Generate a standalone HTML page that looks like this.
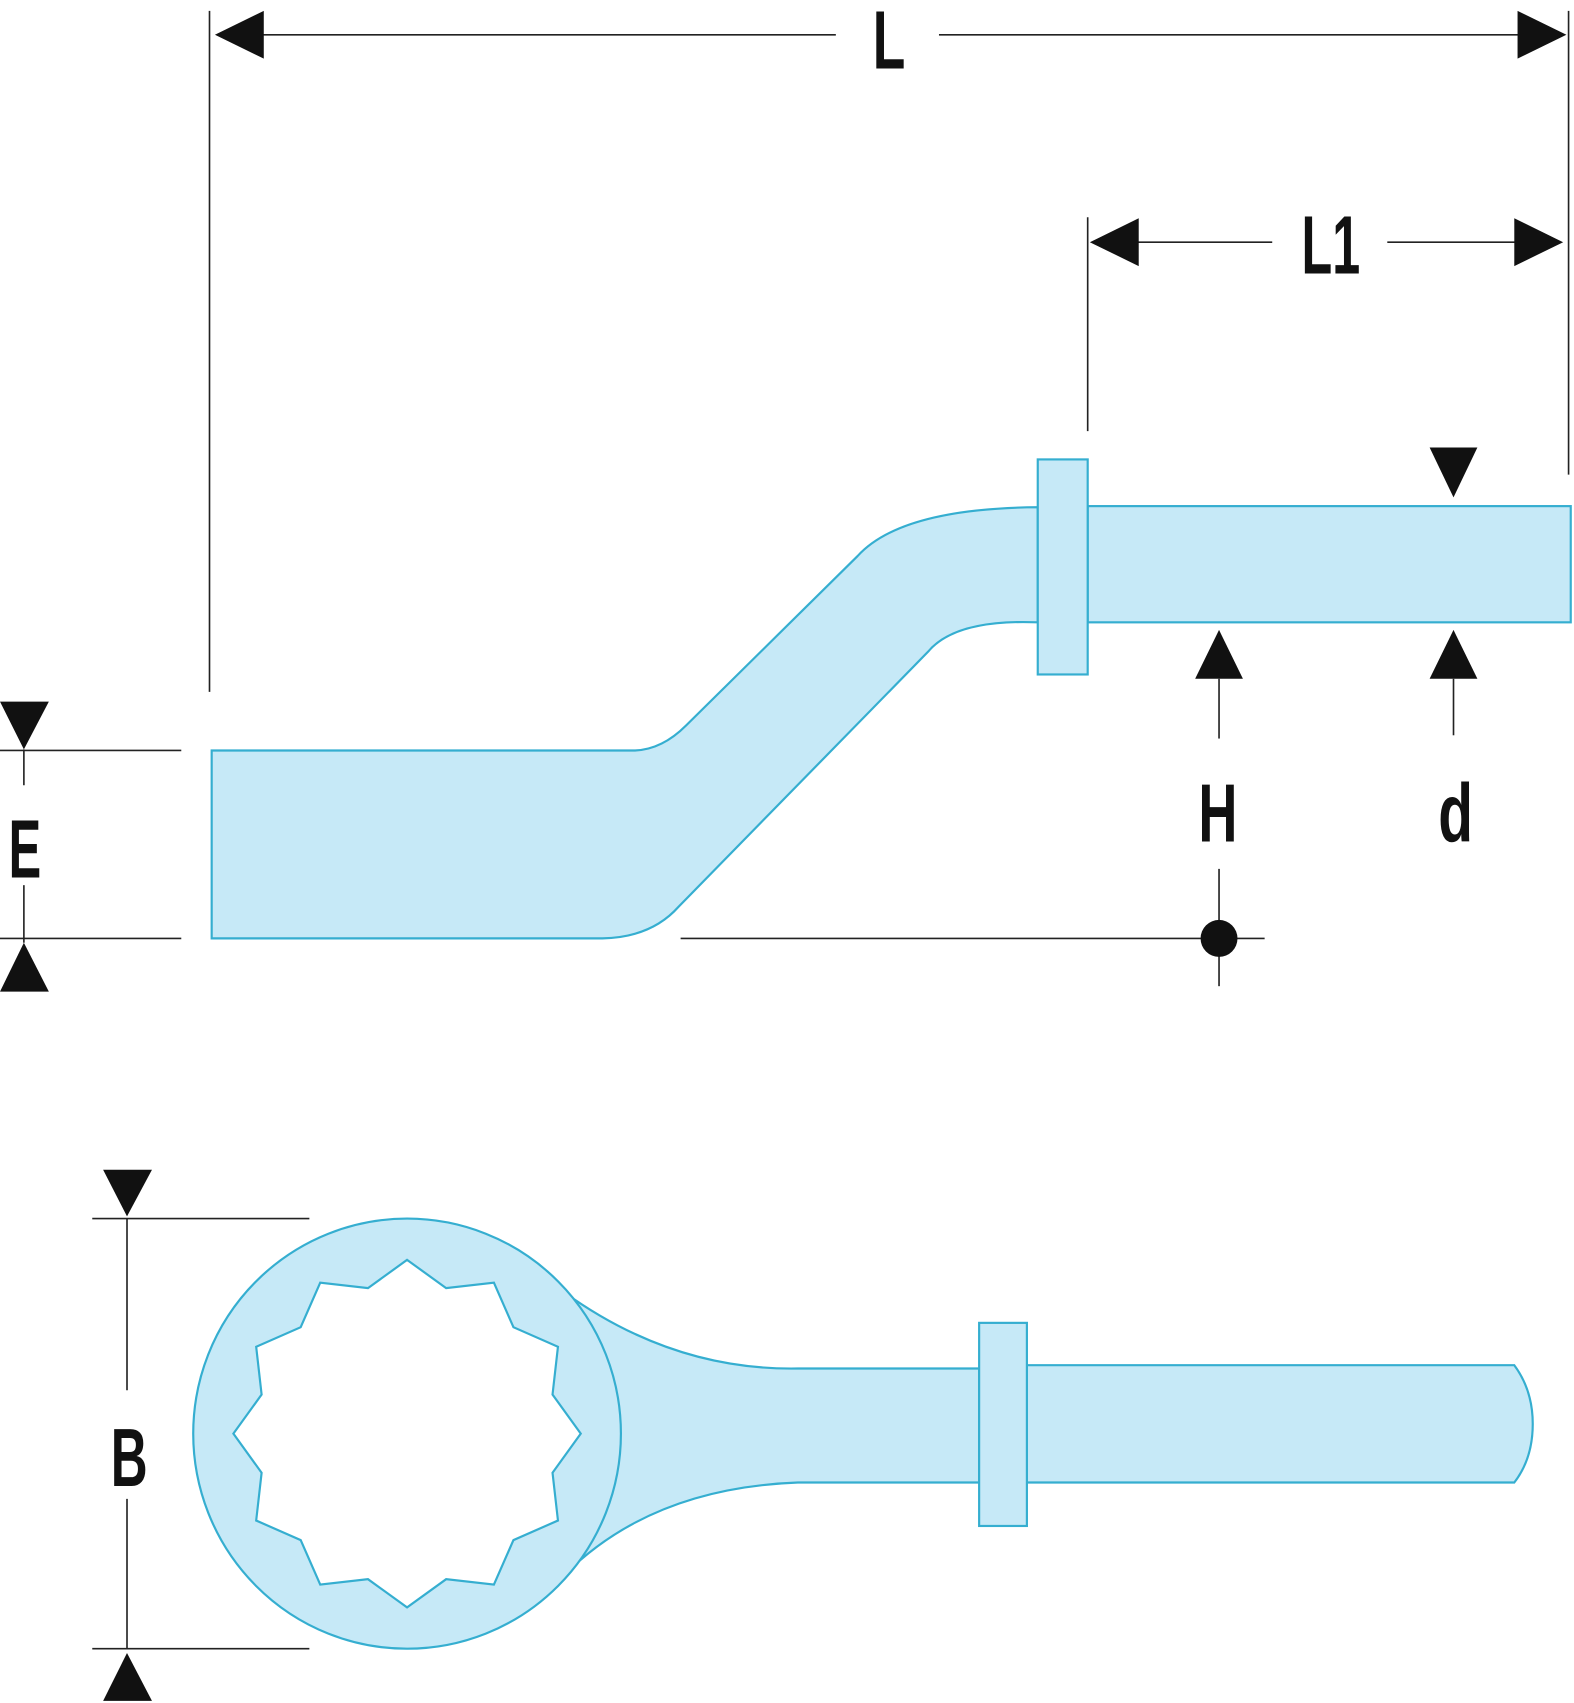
<!DOCTYPE html>
<html><head><meta charset="utf-8"><style>html,body{margin:0;padding:0;background:#fff}svg{display:block}</style></head>
<body>
<svg width="1574" height="1703" viewBox="0 0 1450 1568" preserveAspectRatio="none" xmlns="http://www.w3.org/2000/svg">
<g stroke="#222" stroke-width="1.5" fill="none">
<line x1="193" y1="10" x2="193" y2="637"/>
<line x1="1445" y1="10" x2="1445" y2="437"/>
<line x1="200" y1="32" x2="770" y2="32"/>
<line x1="865" y1="32" x2="1440" y2="32"/>
<line x1="1002" y1="200" x2="1002" y2="397"/>
<line x1="1048" y1="223" x2="1172" y2="223"/>
<line x1="1278" y1="223" x2="1398" y2="223"/>
<line x1="1339" y1="625" x2="1339" y2="677"/>
<line x1="1123" y1="625" x2="1123" y2="680"/>
<line x1="1123" y1="800" x2="1123" y2="908"/>
<line x1="627" y1="864" x2="1165" y2="864"/>
<line x1="0" y1="691" x2="167" y2="691"/>
<line x1="0" y1="864" x2="167" y2="864"/>
<line x1="22" y1="690" x2="22" y2="723"/>
<line x1="22" y1="815" x2="22" y2="868"/>
<line x1="85" y1="1122" x2="285" y2="1122"/>
<line x1="85" y1="1518" x2="285" y2="1518"/>
<line x1="117" y1="1122" x2="117" y2="1280"/>
<line x1="117" y1="1380" x2="117" y2="1518"/>
</g>
<g fill="#111">
<polygon points="198,32 243,10 243,54"/>
<polygon points="1443,32 1398,10 1398,54"/>
<polygon points="1004,223 1049,201 1049,245"/>
<polygon points="1440,223 1395,201 1395,245"/>
<polygon points="1317,412 1361,412 1339,458"/>
<polygon points="1317,625 1361,625 1339,580"/>
<polygon points="1101,625 1145,625 1123,580"/>
<circle cx="1123" cy="864" r="17"/>
<polygon points="0,646 45,646 22,690"/>
<polygon points="0,913 45,913 22,868"/>
<polygon points="95,1077 140,1077 117,1120"/>
<polygon points="95,1566 140,1566 117,1522"/>
</g>
<g font-family="Liberation Sans, sans-serif" font-weight="bold" fill="#111" font-size="76">
<text x="804" y="63" textLength="30" lengthAdjust="spacingAndGlyphs">L</text>
<text x="1199" y="252" textLength="54" lengthAdjust="spacingAndGlyphs">L1</text>
<text x="1104" y="775" textLength="36" lengthAdjust="spacingAndGlyphs">H</text>
<text x="1325" y="775" textLength="32" lengthAdjust="spacingAndGlyphs">d</text>
<text x="8" y="808" textLength="30" lengthAdjust="spacingAndGlyphs">E</text>
<text x="102" y="1368" textLength="34" lengthAdjust="spacingAndGlyphs">B</text>
</g>
<g fill="#c6e9f7" stroke="#35aed0" stroke-width="2">
<path d="M195,691 L585,691 Q610,690 632,668 L790,512 Q830,468 956,467 L956,573 Q880,570 855,600 L625,835 Q600,863 555,864 L195,864 Z"/>
<rect x="1002" y="466" width="445" height="107"/>
<rect x="956" y="423" width="46" height="198"/>
<path d="M520,1190 Q620,1262 735,1260 L902,1260 L902,1365 L735,1365 Q600,1370 520,1450 Z"/>
<path d="M946,1257 L1395,1257 Q1412,1280 1412,1311 Q1412,1343 1395,1365 L946,1365 Z"/>
<rect x="902" y="1218" width="44" height="187"/>
<ellipse cx="375" cy="1320" rx="197" ry="198"/>
<polygon fill="#fff" points="375,1160 411,1186 455,1181 473,1222 514,1240 509,1284 535,1320 509,1356 514,1400 473,1418 455,1459 411,1454 375,1480 339,1454 295,1459 277,1418 236,1400 241,1356 215,1320 241,1284 236,1240 277,1222 295,1181 339,1186"/>
</g>
</svg>
</body></html>
